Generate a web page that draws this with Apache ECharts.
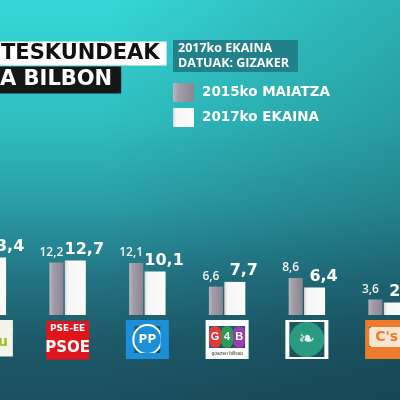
<!DOCTYPE html>
<html>
<head>
<meta charset="utf-8">
<script src="https://cdn.jsdelivr.net/npm/echarts@6/dist/echarts.min.js"></script>
<style>
html,body{margin:0;padding:0;width:400px;height:400px;overflow:hidden;}
body{
  background:
    linear-gradient(to right, rgba(0,0,0,0) 25%, rgba(10,40,50,0.22) 100%),
    linear-gradient(to bottom, #36d7d8 0%, #2fbfc1 30%, #2a9ba5 52%, #227282 70%, #1d5a69 85%, #1b4f5f 100%);
}
#chart{width:400px;height:400px;}
</style>
</head>
<body>
<div id="chart"></div>
<script>
// ---- data ----
const categories = ['EH Bildu', 'PSE-EE PSOE', 'PP', 'Goazen Bilbao', 'Udalberri', "C's"];
const seriesNames = ['2015ko MAIATZA', '2017ko EKAINA'];
const values2015 = [null, 12.2, 12.1, 6.6, 8.6, 3.6];
const values2017 = [13.4, 12.7, 10.1, 7.7, 6.4, 2.9];
const titleLine1 = 'TESKUNDEAK';
const titleLine2 = 'A BILBON';
const infoText = '2017ko EKAINA\nDATUAK: GIZAKER';

const chart = echarts.init(document.getElementById('chart'), null, {renderer: 'canvas'});
const fmt = p => (p.value == null ? '' : p.value.toFixed(1).replace('.', ','));

const pad = (w, h, bg) => ({width: w, height: h, lineHeight: h, fontSize: 1, backgroundColor: bg});
const logoFor = {
  'EH Bildu': '{ehT|EH}\n{ehB|Bildu}',
  'PSE-EE PSOE': '{psA|PSE-EE}\n{psB|PSOE}',
  'PP': '{ppT| }\n{ppS| }{ppC|PP}{ppS| }\n{ppB| }',
  'Goazen Bilbao': '{gbT| }\n{gbS| }{gbG|G}{gbQ|4}{gbB|B}{gbS| }\n{gbN|goazen bilbao}',
  'Udalberri': '{udT| }\n{udS| }{udC|❧}{udS| }\n{udT| }',
  "C's": '{csT| }\n{csS| }{csC|C\'s}{csS| }\n{csB| }'
};
const RED = '#e2141b', BLUE = '#1b8fd8', ORANGE = '#ee7a2c', CREAM = '#f2f4ea';

const option = {
  animation: false,
  backgroundColor: 'transparent',
  title: [
    {text: titleLine1, left: 0, top: 42, backgroundColor: '#ffffff', padding: [2, 7, 1, 1],
     textStyle: {color: '#111', fontFamily: 'DejaVu Sans', fontWeight: 'bold', fontSize: 21, lineHeight: 20}},
    {text: titleLine2, left: 0, top: 67, backgroundColor: '#161616', padding: [3, 9, 3, 0],
     textStyle: {color: '#fff', fontFamily: 'DejaVu Sans', fontWeight: 'bold', fontSize: 21, lineHeight: 20}},
    {text: infoText, left: 173, top: 40, backgroundColor: '#21808a', padding: [1, 9, 1, 5],
     textStyle: {color: '#fff', fontFamily: 'Open Sans', fontWeight: 'bold', fontSize: 12.5, lineHeight: 15}}
  ],
  legend: {
    data: seriesNames, orient: 'vertical', left: 173, top: 83, padding: 0,
    itemWidth: 21, itemHeight: 19, itemGap: 6, icon: 'rect',
    textStyle: {color: '#fff', fontFamily: 'DejaVu Sans', fontWeight: 'bold', fontSize: 13.5, padding: [0, 0, 0, 3]}
  },
  grid: {left: -52, width: 478.5, top: 100, bottom: 85, containLabel: false, outerBoundsMode: 'none'},
  xAxis: {
    type: 'category', data: categories,
    axisLine: {show: false}, axisTick: {show: false}, splitLine: {show: false},
    axisLabel: {
      interval: 0, margin: 5, hideOverlap: false,
      formatter: v => logoFor[v],
      rich: {
        ehT: {width: 50, height: 10, lineHeight: 10, backgroundColor: CREAM, color: '#2d6e3a', fontSize: 7, fontWeight: 'bold', align: 'center'},
        ehB: {width: 50, height: 29, lineHeight: 24, backgroundColor: CREAM, color: '#9ebf1d', fontSize: 14, fontWeight: 'bold', fontFamily: 'DejaVu Sans', align: 'center'},
        psA: {width: 43, height: 16, lineHeight: 18, backgroundColor: RED, color: '#fff', fontSize: 9, fontWeight: 'bold', fontFamily: 'DejaVu Sans', align: 'center'},
        psB: {width: 43, height: 23, lineHeight: 20, backgroundColor: RED, color: '#fff', fontSize: 15, fontWeight: 'bold', fontFamily: 'DejaVu Sans', align: 'center'},
        ppT: pad(43, 6, BLUE), ppB: pad(43, 6, BLUE), ppS: pad(8.5, 27, BLUE),
        ppC: {width: 26, height: 27, lineHeight: 27, backgroundColor: BLUE, borderColor: '#fff', borderWidth: 2, borderRadius: 14,
              color: '#fff', fontSize: 12, fontWeight: 'bold', fontFamily: 'DejaVu Sans', align: 'center'},
        gbT: pad(43, 6, '#fff'), gbS: pad(3.5, 22, '#fff'),
        gbG: {width: 12, height: 22, lineHeight: 22, backgroundColor: '#e23a3a', borderRadius: 6, color: '#fff', fontSize: 11, fontWeight: 'bold', align: 'center'},
        gbQ: {width: 12, height: 22, lineHeight: 22, backgroundColor: '#2e9a56', borderRadius: 6, color: '#fff', fontSize: 11, fontWeight: 'bold', align: 'center'},
        gbB: {width: 12, height: 22, lineHeight: 22, backgroundColor: '#9b3db5', borderRadius: 6, color: '#fff', fontSize: 11, fontWeight: 'bold', align: 'center'},
        gbN: {width: 43, height: 11, lineHeight: 11, backgroundColor: '#fff', color: '#333', fontSize: 5, align: 'center'},
        udT: pad(43, 2, '#fff'), udS: pad(4, 35, '#fff'),
        udC: {width: 35, height: 35, lineHeight: 35, backgroundColor: '#2a9a80', borderRadius: 18, color: '#e8f4ef', fontSize: 20, align: 'center', fontFamily: 'DejaVu Sans'},
        csT: pad(43, 7, ORANGE), csB: pad(43, 12, ORANGE), csS: pad(4, 20, ORANGE),
        csC: {width: 35, height: 20, lineHeight: 20, backgroundColor: '#f8e6d2', borderRadius: 3, color: ORANGE, fontSize: 14, fontWeight: 'bold', fontFamily: 'DejaVu Sans', align: 'center'}
      }
    }
  },
  yAxis: {type: 'value', min: 0, max: 50, show: false, splitLine: {show: false}},
  series: [
    {
      name: seriesNames[0], type: 'bar', data: values2015, barWidth: 14, barGap: '10%',
      itemStyle: {color: new echarts.graphic.LinearGradient(0, 0, 1, 0, [
        {offset: 0, color: '#bdb8c0'}, {offset: 0.25, color: '#a39ea8'}, {offset: 1, color: '#8a8590'}])},
      label: {show: true, position: 'top', distance: 4, offset: [-5, 0], formatter: fmt,
        color: '#f2f2f2', fontFamily: 'Open Sans', fontWeight: 600, fontSize: 12}
    },
    {
      name: seriesNames[1], type: 'bar', data: values2017, barWidth: 21,
      itemStyle: {color: new echarts.graphic.LinearGradient(0, 0, 1, 0, [
        {offset: 0, color: '#d6d6d8'}, {offset: 0.15, color: '#f6f6f6'}, {offset: 1, color: '#fbfbfb'}])},
      label: {show: true, position: 'top', distance: 3, offset: [9, 0], formatter: fmt,
        color: '#ffffff', fontFamily: 'DejaVu Sans', fontWeight: 'bold', fontSize: 16}
    }
  ]
};
chart.setOption(option);
</script>
</body>
</html>
